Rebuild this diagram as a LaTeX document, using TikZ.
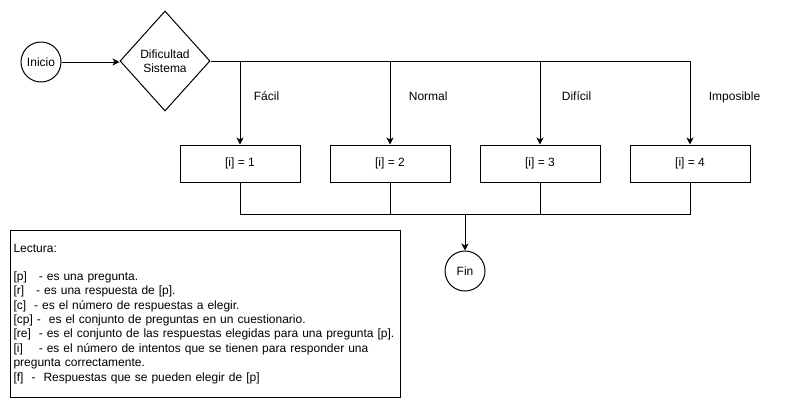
\documentclass[tikz,border=0pt]{standalone}
\usepackage{fontspec}
\setmainfont{Liberation Sans}
\usetikzlibrary{shapes.geometric,arrows.meta,positioning}
\begin{document}
\begin{tikzpicture}[x=1pt,y=-1pt,line width=1pt,
    every node/.style={font=\fontsize{12}{14.4}\selectfont},
    estado/.style={draw,circle,minimum size=40pt,inner sep=0pt},
    decision/.style={draw,diamond,minimum width=90pt,minimum height=100pt,inner sep=0pt,aspect=0.9,align=center},
    caja/.style={draw,rectangle,minimum width=120pt,minimum height=37pt,inner sep=0pt},
    flecha/.style={-{Stealth[length=7pt,width=7pt,inset=2pt]}}]
        \useasboundingbox (0,0) rectangle (785,408);
        % Define Nodes
        \node[estado] (inicio) at (41,62) {Inicio};
        \node[decision] (dificultad) at (165,61) {Dificultad\\Sistema};
        \node[caja] (b1) at (240,163.5) {[i] = 1};
        \node[caja] (b2) at (390,163.5) {[i] = 2};
        \node[caja] (b3) at (540,163.5) {[i] = 3};
        \node[caja] (b4) at (690,163.5) {[i] = 4};
        \node[estado] (fin) at (465,271) {Fin};
        \coordinate (m) at (465,214);
        \node[draw,rectangle,anchor=north west,text width=384pt,minimum height=167pt,
              inner xsep=3pt,inner ysep=0pt,align=left] (lectura) at (10,230)
            {Lectura:\\[13.4pt]
             {[p]}~~~- es una pregunta.\\
             {[r]}~~~- es una respuesta de [p].\\
             {[c]}~~- es el número de respuestas a elegir.\\
             {[cp]}~-~~es el conjunto de preguntas en un cuestionario.\\
             {[re]}~~- es el conjunto de las respuestas elegidas para una pregunta [p].\\
             {[i]}~~~~- es el número de intentos que se tienen para responder una\\
             pregunta correctamente.\\
             {[f]}~~-~~Respuestas que se pueden elegir de [p]\\[3pt]};

        % Draw Edges
        \draw[flecha] (inicio) -- (dificultad.west |- inicio);
        \draw[flecha] (dificultad.east) -| (b4.north);
        \draw[flecha] (b1.north |- dificultad.east) -- (b1.north);
        \draw[flecha] (b2.north |- dificultad.east) -- (b2.north);
        \draw[flecha] (b3.north |- dificultad.east) -- (b3.north);
        \draw (b1.south) |- (b4.south |- m) -- (b4.south);
        \draw (b2.south) -- (b2.south |- m);
        \draw (b3.south) -- (b3.south |- m);
        \draw[flecha] (m) -- (fin.north);

        % Labels
        \node[anchor=base west] (facil) at (250,100) {Fácil};
        \node[anchor=base west] (normal) at (405,100) {Normal};
        \node[anchor=base west] (dificil) at (558,100) {Difícil};
        \node[anchor=base west] (imposible) at (705,100) {Imposible};
    \end{tikzpicture}
\end{document}
